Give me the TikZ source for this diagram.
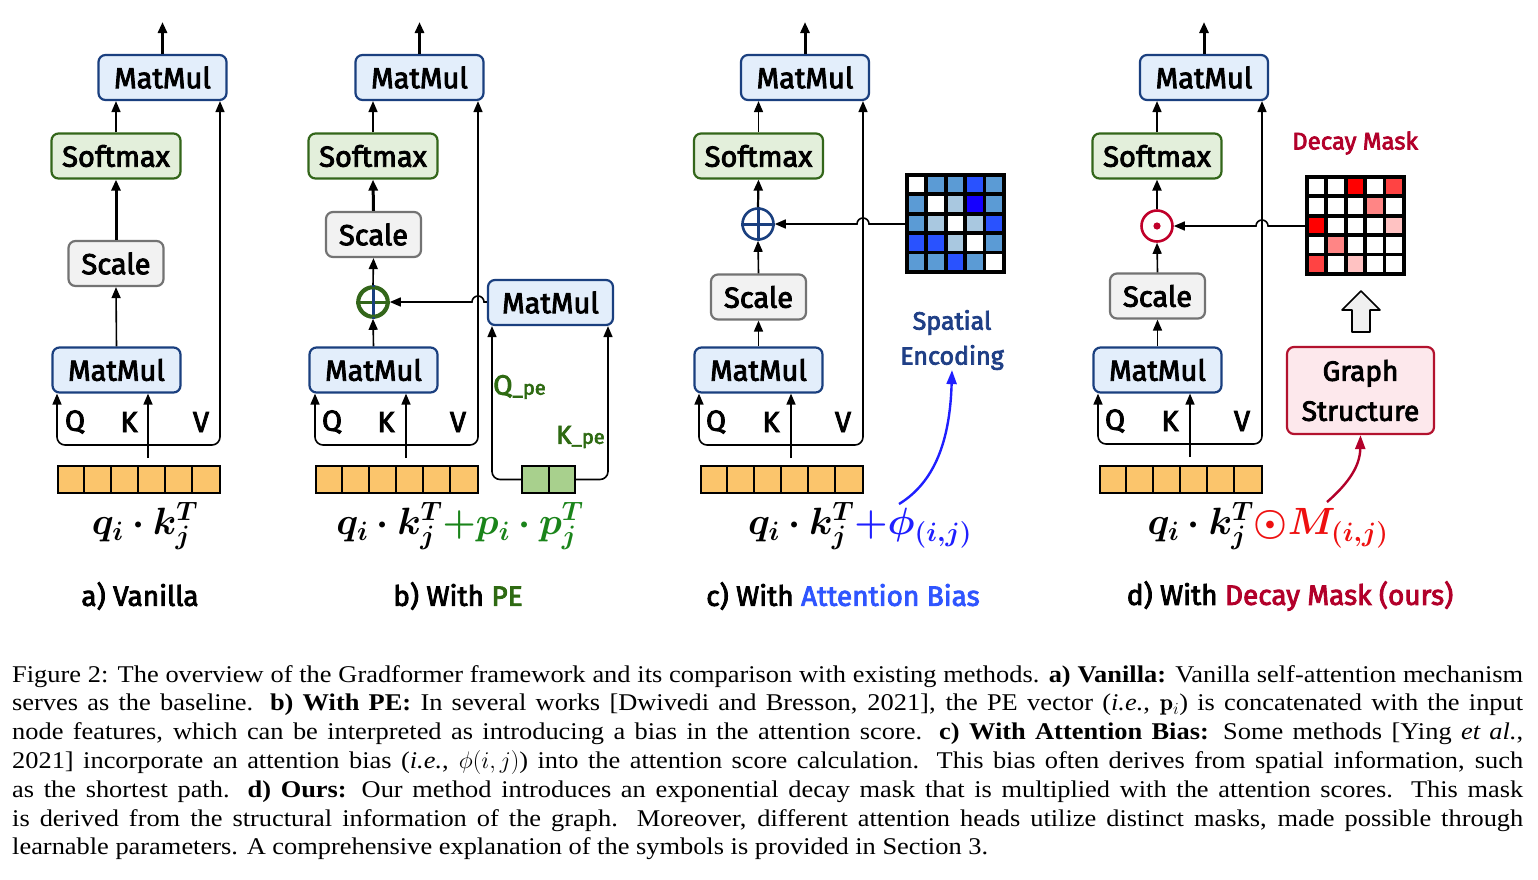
\RequirePackage{fix-cm}
\documentclass[tikz,border=0pt]{standalone}
\usepackage{fontspec}
\usepackage{amsmath}
\usepackage{bm}
\usetikzlibrary{arrows.meta,calc}
\newfontfamily\dfont[FakeBold=3]{Fira Sans}
\newfontfamily\capfont[FakeStretch=1.1]{Liberation Serif}
\definecolor{mmB}{HTML}{1A3F7F}
\definecolor{mmF}{HTML}{E3EEFB}
\definecolor{smB}{HTML}{33661A}
\definecolor{smF}{HTML}{E3EFDB}
\definecolor{scB}{HTML}{737373}
\definecolor{scF}{HTML}{F2F2F2}
\definecolor{cellO}{HTML}{FBC56C}
\definecolor{cellG}{HTML}{A8D08D}
\definecolor{peG}{HTML}{2E6A12}
\definecolor{fmlG}{HTML}{1A841A}
\definecolor{spB}{HTML}{1F3F86}
\definecolor{attB}{HTML}{2F55FF}
\definecolor{fmlB}{HTML}{1F1FFF}
\definecolor{dmR}{HTML}{B2002A}
\definecolor{fmlR}{HTML}{EE1010}
\definecolor{circR}{HTML}{C0002A}
\definecolor{gsB}{HTML}{B3122E}
\definecolor{gsF}{HTML}{FDE8EC}
\definecolor{mbA}{HTML}{5B9BD5}
\definecolor{mbB}{HTML}{A9C8E0}
\definecolor{mbC}{HTML}{2952FF}
\definecolor{mbD}{HTML}{1500FF}
\definecolor{mrA}{HTML}{FF0000}
\definecolor{mrB}{HTML}{FF4343}
\definecolor{mrC}{HTML}{FF8585}
\definecolor{mrD}{HTML}{FFC2C2}
\tikzset{
  box/.style={draw, rounded corners=7pt, line width=2.2pt, minimum height=45pt, inner sep=0pt,
    font=\dfont\fontsize{29}{30}\selectfont},
  mm/.style={box, draw=mmB, fill=mmF, minimum width=128pt},
  sm/.style={box, draw=smB, fill=smF, minimum width=129pt},
  sc/.style={box, draw=scB, fill=scF, minimum width=95pt},
  arr/.style={-{Triangle[length=11pt,width=9pt]}, line width=1.6pt},
  arrT/.style={-{Triangle[length=11pt,width=9pt]}, line width=3pt},
  arrM/.style={-{Triangle[length=11pt,width=9pt]}, line width=2.2pt},
  arrTwo/.style={{Triangle[length=11pt,width=9pt]}-{Triangle[length=11pt,width=9pt]}, line width=1.6pt, rounded corners=8pt},
  lbl/.style={font=\dfont\fontsize{29}{30}\selectfont, inner sep=0pt},
  fml/.style={font=\fontsize{38}{40}\selectfont, inner sep=0pt},
  ttl/.style={font=\dfont\fontsize{28}{30}\selectfont, inner sep=0pt},
  vecO/.style={draw, line width=2pt, fill=cellO, minimum width=162pt, minimum height=27pt, inner sep=0pt},
  vecG/.style={draw, line width=2pt, fill=cellG, minimum width=53pt, minimum height=27pt, inner sep=0pt},
  cline/.style={line width=2pt},
  circ/.style={circle, line width=2.6pt, minimum size=31pt, inner sep=0pt},
  mat/.style={fill=black, minimum width=101pt, minimum height=101pt, inner sep=0pt},
}
\newcommand\vdiv[1]{\foreach \k in {1,...,5}{\draw[cline] ($(#1.north west)+(27*\k,0)$) -- ($(#1.south west)+(27*\k,0)$);}}
\newcommand\mcell[4]{\fill[#4] ($(#1.north west)+(4+19.4*#3,4+19.4*#2)$) rectangle ++(15.5,15.5);}
\begin{document}
\begin{tikzpicture}[x=1pt,y=-1pt]
\useasboundingbox[fill=white] (0,0) rectangle (1538,879);

%%%%%%%% Panel a
\node[mm] (aT) at (162.5,77.5) {MatMul};
\node[sm] (aS) at (116,156) {Softmax};
\node[sc] (aC) at (116,263.5) {Scale};
\node[mm] (aM) at (116.5,370) {MatMul};
\coordinate (aO) at (162.5,22);
\draw[arrT] (aT.north) -- (aO);
\draw[arr] (aS.north) -- (aS.north |- aT.south);
\draw[arrT] (aC.north) -- (aS.south);
\draw[arr] (aM.north) -- (aC.south);
\coordinate (aQ) at (57,445);
\coordinate (aW) at (220,445);
\draw[arrTwo] (aQ |- aM.south) -- (aQ) -- (aW) -- (aW |- aT.south);
\coordinate (aK) at (148,458);
\draw[arr] (aK) -- (aK |- aM.south);
\node[lbl] (aq) at (75,422) {Q};
\node[lbl] (ak) at (129,422) {K};
\node[lbl] (av) at (201,422) {V};
\node[vecO] (aV) at (139,479.5) {};
\vdiv{aV}
\node[fml] (af) at (145,526) {$\bm{q_i \cdot k_j^T}$};
\node[ttl] (al) at (140,596) {a) Vanilla};

%%%%%%%% Panel b
\node[mm] (bT) at (419.5,77.5) {MatMul};
\node[sm] (bS) at (373,156) {Softmax};
\node[sc] (bC) at (373.5,234.5) {Scale};
\node[circ, draw=smB] (bP) at (373,302) {};
\draw[line width=3pt, smB] (bP.west) -- (bP.east);
\draw[line width=3pt, mmB] (bP.north) -- (bP.south);
\draw[line width=2.6pt, smB] (bP) circle (14);
\node[mm] (bM) at (373.5,370) {MatMul};
\node[mm, minimum width=125pt] (bE) at (550.5,302.5) {MatMul};
\coordinate (bO) at (419.5,22);
\draw[arrT] (bT.north) -- (bO);
\draw[arr] (bS.north) -- (bS.north |- bT.south);
\draw[arrT] (bC.north) -- (bS.south);
\draw[arr] (bP.north) -- (bC.south);
\draw[arr] (bM.north) -- (bP.south);
\coordinate (bQ) at (315,445);
\coordinate (bW) at (478,445);
\draw[arrTwo] (bQ |- bM.south) -- (bQ) -- (bW) -- (bW |- bT.south);
\draw[arr] (bE.west |- bP) -- ($(bW |- bP)+(6,0)$) arc[start angle=0,end angle=-180,radius=6] -- (bP.east);
\coordinate (bK) at (406,458);
\draw[arr] (bK) -- (bK |- bM.south);
\node[lbl] (bq) at (332,422) {Q};
\node[lbl] (bk) at (386,422) {K};
\node[lbl] (bv) at (458,422) {V};
\node[vecO] (bV) at (396.5,479.5) {};
\vdiv{bV}
\node[vecG] (bG) at (548.5,479.5) {};
\draw[cline] (bG.north) -- (bG.south);
\coordinate (bQe) at (492,479.5);
\coordinate (bKe) at (608,479.5);
\draw[arr, rounded corners=8pt] (bG.west) -- (bQe) -- (bQe |- bE.south);
\draw[arr, rounded corners=8pt] (bG.east) -- (bKe) -- (bKe |- bE.south);
\node[lbl, text=peG, anchor=west] (bqp) at (493,387) {\fontsize{28}{28}\selectfont Q\fontsize{20}{20}\selectfont\_pe};
\node[lbl, text=peG, anchor=west] (bkp) at (556,437) {\fontsize{26}{28}\selectfont K\fontsize{20}{20}\selectfont\_pe};
\node[fml] (bf) at (460,526) {$\bm{q_i \cdot k_j^T}{\color{fmlG}\bm{+p_i \cdot p_j^T}}$};
\node[ttl] (bl) at (458,596) {b) With {\color{peG}PE}};

%%%%%%%% Panel c
\node[mm] (cT) at (805,77.5) {MatMul};
\node[sm] (cS) at (758.5,156) {Softmax};
\node[circ, draw=mmB] (cP) at (758,224) {};
\draw[line width=3pt, mmB] (cP.west) -- (cP.east);
\draw[line width=3pt, mmB] (cP.north) -- (cP.south);
\node[sc] (cC) at (758.5,297) {Scale};
\node[mm] (cM) at (758.5,370) {MatMul};
\coordinate (cO) at (805,22);
\draw[arrT] (cT.north) -- (cO);
\draw[arr] (cS.north) -- (cS.north |- cT.south);
\draw[arrM] (cP.north) -- (cS.south);
\draw[arr] (cC.north) -- (cP.south);
\draw[arr] (cM.north) -- (cC.south);
\coordinate (cQ) at (699,445);
\coordinate (cW) at (863,445);
\draw[arrTwo] (cQ |- cM.south) -- (cQ) -- (cW) -- (cW |- cT.south);
\coordinate (cK) at (791,458);
\draw[arr] (cK) -- (cK |- cM.south);
\node[lbl] (cq) at (716,422) {Q};
\node[lbl] (ck) at (771,422) {K};
\node[lbl] (cv) at (843,422) {V};
\node[vecO] (cV) at (781.5,479.5) {};
\vdiv{cV}
\node[mat] (cX) at (955.5,223.5) {};
\foreach \r/\c/\col in {0/0/white,0/1/mbA,0/2/mbA,0/3/mbC,0/4/mbA,
  1/0/mbA,1/1/white,1/2/mbB,1/3/mbD,1/4/mbA,
  2/0/mbA,2/1/mbB,2/2/white,2/3/mbB,2/4/mbC,
  3/0/mbC,3/1/mbC,3/2/mbB,3/3/white,3/4/mbA,
  4/0/mbA,4/1/mbA,4/2/mbC,4/3/mbA,4/4/white}{\mcell{cX}{\r}{\c}{\col}}
\draw[arr] (cX.west |- cP) -- ($(cW |- cP)+(6,0)$) arc[start angle=0,end angle=-180,radius=6] -- (cP.east);
\node[lbl, text=spB, align=center, font=\dfont\fontsize{25}{35}\selectfont] (cSE) at (952,340) {Spatial\\Encoding};
\coordinate (cBs) at (899,504);
\draw[-{Triangle[length=14pt,width=10pt]}, line width=2.4pt, fmlB] (cBs) .. controls (935,482) and (950,440) .. (cSE.south);
\node[fml] (cf) at (860,526) {$\bm{q_i \cdot k_j^T}{\color{fmlB}\bm{+\phi_{(i,j)}}}$};
\node[ttl] (cl) at (843,596) {c) With {\color{attB}Attention Bias}};

%%%%%%%% Panel d
\node[mm] (dT) at (1204,77.5) {MatMul};
\node[sm] (dS) at (1157,156) {Softmax};
\node[circ, draw=circR] (dP) at (1157,226) {};
\fill[circR] (dP) circle (3.6);
\node[sc] (dC) at (1157.5,296) {Scale};
\node[mm] (dM) at (1157.5,370) {MatMul};
\coordinate (dO) at (1204,22);
\draw[arrT] (dT.north) -- (dO);
\draw[arr] (dS.north) -- (dS.north |- dT.south);
\draw[arrM] (dP.north) -- (dS.south);
\draw[arr] (dC.north) -- (dP.south);
\draw[arr] (dM.north) -- (dC.south);
\coordinate (dQ) at (1098,444);
\coordinate (dW) at (1262,444);
\draw[arrTwo] (dQ |- dM.south) -- (dQ) -- (dW) -- (dW |- dT.south);
\coordinate (dK) at (1190,457);
\draw[arr] (dK) -- (dK |- dM.south);
\node[lbl] (dq) at (1115,421) {Q};
\node[lbl] (dk) at (1170,421) {K};
\node[lbl] (dv) at (1242,421) {V};
\node[vecO] (dV) at (1180.5,479.5) {};
\vdiv{dV}
\node[lbl, text=dmR, font=\dfont\fontsize{24}{26}\selectfont] (dDM) at (1355,143) {Decay Mask};
\node[mat] (dX) at (1355.5,225.5) {};
\foreach \r/\c/\col in {0/0/white,0/1/white,0/2/mrA,0/3/white,0/4/mrB,
  1/0/white,1/1/white,1/2/white,1/3/mrC,1/4/white,
  2/0/mrA,2/1/white,2/2/white,2/3/white,2/4/mrD,
  3/0/white,3/1/mrC,3/2/white,3/3/white,3/4/white,
  4/0/mrB,4/1/white,4/2/mrD,4/3/white,4/4/white}{\mcell{dX}{\r}{\c}{\col}}
\draw[arr] (dX.west |- dP) -- ($(dW |- dP)+(6,0)$) arc[start angle=0,end angle=-180,radius=6] -- (dP.east);
\node[box, draw=gsB, fill=gsF, minimum width=147pt, minimum height=87pt, align=center,
  font=\dfont\fontsize{28}{40}\selectfont] (dG) at (1360.5,390.5) {Graph\\Structure};
\draw[line width=1.6pt, fill=gray!12, line join=round]
  (1361,291) -- (1380,310) -- (1370,310) -- (1370,332) -- (1352,332) -- (1352,310) -- (1342,310) -- cycle;
\coordinate (dRs) at (1327,502);
\draw[-{Triangle[length=14pt,width=10pt]}, line width=2.4pt, dmR] (dRs) .. controls (1350,482) and (1360,465) .. (dG.south);
\node[fml] (df) at (1268,526) {$\bm{q_i \cdot k_j^T}{\color{fmlR}\bm{\odot M_{(i,j)}}}$};
\node[ttl] (dl) at (1290,596) {d) With {\color{dmR}Decay Mask (ours)}};

%%%%%%%% Caption
\node[anchor=north west, inner sep=0pt, text width=1511pt, align=justify,
  font=\capfont\fontsize{24}{28.8}\selectfont] (cap) at (12,665) {%
Figure 2: The overview of the Gradformer framework and its comparison with existing methods. \textbf{a) Vanilla:} Vanilla self-attention mechanism\linebreak
serves as the baseline. \textbf{b) With PE:} In several works [Dwivedi and Bresson, 2021], the PE vector (\textit{i.e.}, $\mathbf{p}_i$) is concatenated with the input\linebreak
node features, which can be interpreted as introducing a bias in the attention score. \textbf{c) With Attention Bias:} Some methods [Ying \textit{et al.},\linebreak
2021] incorporate an attention bias (\textit{i.e.}, $\phi(i,j)$) into the attention score calculation. This bias often derives from spatial information, such\linebreak
as the shortest path. \textbf{d) Ours:} Our method introduces an exponential decay mask that is multiplied with the attention scores. This mask\linebreak
is derived from the structural information of the graph. Moreover, different attention heads utilize distinct masks, made possible through\linebreak
learnable parameters. A comprehensive explanation of the symbols is provided in Section 3.};
\end{tikzpicture}
\end{document}
